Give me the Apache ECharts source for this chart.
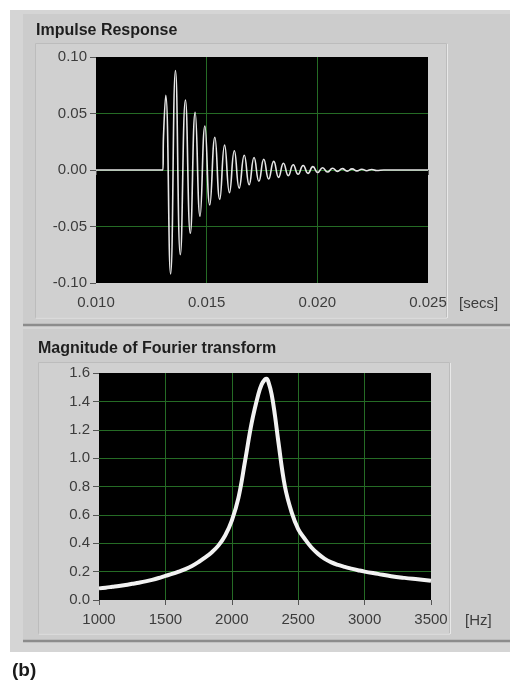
<!DOCTYPE html>
<html>
<head>
<meta charset="utf-8">
<script src="https://cdn.jsdelivr.net/npm/echarts@6/dist/echarts.min.js"></script>
<style>
html,body{margin:0;padding:0;background:#ffffff;}
#c{width:510px;height:681px;}
</style>
</head>
<body>
<div id="c"></div>
<script>
// ---- Impulse response (time in seconds, amplitude) ----
var irTime = [0.0100, 0.01302, 0.01305, 0.01315, 0.01337, 0.01359, 0.01381, 0.01404, 0.01426,
  0.01448, 0.01470, 0.01492, 0.01514, 0.01537, 0.01559, 0.01581, 0.01603, 0.01625, 0.01647,
  0.01670, 0.01692, 0.01714, 0.01736, 0.01758, 0.01780, 0.01803, 0.01825, 0.01847, 0.01869,
  0.01891, 0.01913, 0.01936, 0.01958, 0.01980, 0.02002, 0.02024, 0.02046, 0.02069, 0.02091,
  0.02113, 0.02135, 0.02157, 0.02179, 0.02201, 0.02223, 0.02246, 0.02268, 0.0230, 0.0250];
var irValue = [0, 0, 0.030, 0.066, -0.092, 0.088, -0.075, 0.062, -0.056,
  0.051, -0.041, 0.039, -0.031, 0.029, -0.026, 0.022, -0.020, 0.017, -0.016,
  0.013, -0.013, 0.011, -0.010, 0.0095, -0.008, 0.0076, -0.0065, 0.006, -0.005,
  0.0047, -0.0038, 0.004, -0.003, 0.003, -0.0022, 0.002, -0.0018, 0.0015, -0.0012,
  0.0012, -0.001, 0.001, -0.0008, 0.0007, -0.0006, 0.0005, -0.0004, 0, 0];
var irXTicks = ['0.010', '0.015', '0.020', '0.025'];
var irYTicks = ['-0.10', '-0.05', '0.00', '0.05', '0.10'];

// ---- Magnitude of Fourier transform (Hz, magnitude) ----
var fftFreq = [1000, 1050, 1100, 1150, 1200, 1250, 1300, 1350, 1400, 1450, 1500, 1550, 1600,
  1650, 1700, 1750, 1800, 1850, 1900, 1950, 2000, 2050, 2100, 2150, 2200, 2225, 2250, 2262,
  2275, 2300, 2325, 2350, 2400, 2450, 2500, 2550, 2600, 2650, 2700, 2750, 2800, 2850, 2900,
  2950, 3000, 3100, 3200, 3300, 3400, 3500];
var fftMag = [0.082, 0.087, 0.093, 0.099, 0.106, 0.114, 0.122, 0.131, 0.142, 0.155, 0.170, 0.184, 0.200,
  0.218, 0.240, 0.268, 0.300, 0.337, 0.385, 0.455, 0.560, 0.720, 0.980, 1.250, 1.450, 1.520, 1.555, 1.560,
  1.540, 1.450, 1.300, 1.120, 0.800, 0.620, 0.500, 0.430, 0.370, 0.325, 0.290, 0.265, 0.247, 0.233, 0.221,
  0.210, 0.200, 0.184, 0.168, 0.156, 0.146, 0.136];
var fftXTicks = ['1000', '1500', '2000', '2500', '3000', '3500'];
var fftYTicks = ['0.0', '0.2', '0.4', '0.6', '0.8', '1.0', '1.2', '1.4', '1.6'];

var irData = irTime.map(function (t, i) { return [t, irValue[i]]; });
var fftData = fftFreq.map(function (f, i) { return [f, fftMag[i]]; });

var FONT = 'Liberation Sans';
var gridGreen = '#256b25';
var labelStyle = { color: '#3c3c3c', fontFamily: FONT, fontSize: 15 };
var splitStyle = { show: true, showMinLine: false, showMaxLine: false, lineStyle: { color: gridGreen, width: 1 } };

var chart = echarts.init(document.getElementById('c'), null, { renderer: 'canvas' });

function bgRect(x, y, w, h, fill, stroke, z) {
  return { type: 'rect', z: z, silent: true, shape: { x: x, y: y, width: w, height: h },
    style: { fill: fill, stroke: stroke || null, lineWidth: stroke ? 1 : 0 } };
}
function hLine(x1, x2, y, color, w, z) {
  return { type: 'line', z: z, silent: true, shape: { x1: x1, y1: y, x2: x2, y2: y },
    style: { stroke: color, lineWidth: w } };
}
function vLine(x, y1, y2, color, w, z) {
  return { type: 'line', z: z, silent: true, shape: { x1: x, y1: y1, x2: x, y2: y2 },
    style: { stroke: color, lineWidth: w } };
}
function txt(x, y, s, size, bold, color) {
  return { type: 'text', z: 5, silent: true, x: x, y: y,
    style: { text: s, fill: color || '#2a2a2a', font: (bold ? 'bold ' : '') + size + 'px "' + FONT + '"',
      textVerticalAlign: 'middle' } };
}

var option = {
  animation: false,
  backgroundColor: '#ffffff',
  graphic: [
    // outer frame
    bgRect(10, 10, 500, 642, '#d5d5d5', null, -20),
    // panel 1
    bgRect(23, 14, 487, 310, '#cccccc', null, -19),
    hLine(23, 510, 325, '#8c8c8c', 2.5, -18),
    bgRect(35.5, 43.5, 411, 274, '#d0d0d0', '#bcbcbc', -17),
    hLine(36, 447, 318, '#e8e8e8', 1, -16),
    vLine(447.5, 44, 318, '#e8e8e8', 1, -16),
    // panel 2
    bgRect(23, 329, 487, 311, '#cccccc', null, -19),
    hLine(23, 510, 641, '#8c8c8c', 2.5, -18),
    bgRect(38.5, 362.5, 411, 271, '#d0d0d0', '#bcbcbc', -17),
    hLine(39, 450, 634, '#e8e8e8', 1, -16),
    vLine(450.5, 363, 634, '#e8e8e8', 1, -16),
    // texts
    txt(36, 31, 'Impulse Response', 16, true, '#1e1e1e'),
    txt(38, 349, 'Magnitude of Fourier transform', 16, true, '#1e1e1e'),
    txt(459, 304, '[secs]', 15, false, '#3c3c3c'),
    txt(465, 621, '[Hz]', 15, false, '#3c3c3c'),
    txt(12, 671, '(b)', 19, true, '#1a1a1a')
  ],
  grid: [
    { left: 96, top: 57, width: 332, height: 226, show: true, backgroundColor: '#000000', borderColor: '#000000', borderWidth: 0 },
    { left: 99, top: 373, width: 332, height: 227, show: true, backgroundColor: '#000000', borderColor: '#000000', borderWidth: 0 }
  ],
  xAxis: [
    { gridIndex: 0, type: 'value', min: 0.010, max: 0.025, interval: 0.005,
      axisLine: { show: false },
      axisTick: { show: true, inside: false, length: 5, lineStyle: { color: '#555555' } },
      axisLabel: Object.assign({ margin: 12, formatter: function (v) {
        var s = v.toFixed(3); return irXTicks.indexOf(s) >= 0 ? s : ''; } }, labelStyle),
      splitLine: splitStyle },
    { gridIndex: 1, type: 'value', min: 1000, max: 3500, interval: 500,
      axisLine: { show: false },
      axisTick: { show: true, inside: false, length: 5, lineStyle: { color: '#555555' } },
      axisLabel: Object.assign({ margin: 12, formatter: function (v) {
        var s = String(Math.round(v)); return fftXTicks.indexOf(s) >= 0 ? s : ''; } }, labelStyle),
      splitLine: splitStyle }
  ],
  yAxis: [
    { gridIndex: 0, type: 'value', min: -0.10, max: 0.10, interval: 0.05,
      axisLine: { show: false },
      axisTick: { show: true, inside: false, length: 6, lineStyle: { color: '#555555' } },
      axisLabel: Object.assign({ margin: 9, formatter: function (v) {
        var s = v.toFixed(2); if (s === '-0.00') s = '0.00'; return irYTicks.indexOf(s) >= 0 ? s : ''; } }, labelStyle),
      splitLine: splitStyle },
    { gridIndex: 1, type: 'value', min: 0, max: 1.6, interval: 0.2,
      axisLine: { show: false },
      axisTick: { show: true, inside: false, length: 6, lineStyle: { color: '#555555' } },
      axisLabel: Object.assign({ margin: 9, formatter: function (v) {
        var s = v.toFixed(1); return fftYTicks.indexOf(s) >= 0 ? s : ''; } }, labelStyle),
      splitLine: splitStyle }
  ],
  series: [
    { type: 'line', xAxisIndex: 0, yAxisIndex: 0, data: irData, showSymbol: false, smooth: 0.5,
      lineStyle: { color: '#e6e6e6', width: 1.6 }, clip: true },
    { type: 'line', xAxisIndex: 1, yAxisIndex: 1, data: fftData, showSymbol: false, smooth: 0.4,
      lineStyle: { color: '#f2f2f2', width: 4 }, clip: true }
  ]
};
chart.setOption(option);
</script>
</body>
</html>
